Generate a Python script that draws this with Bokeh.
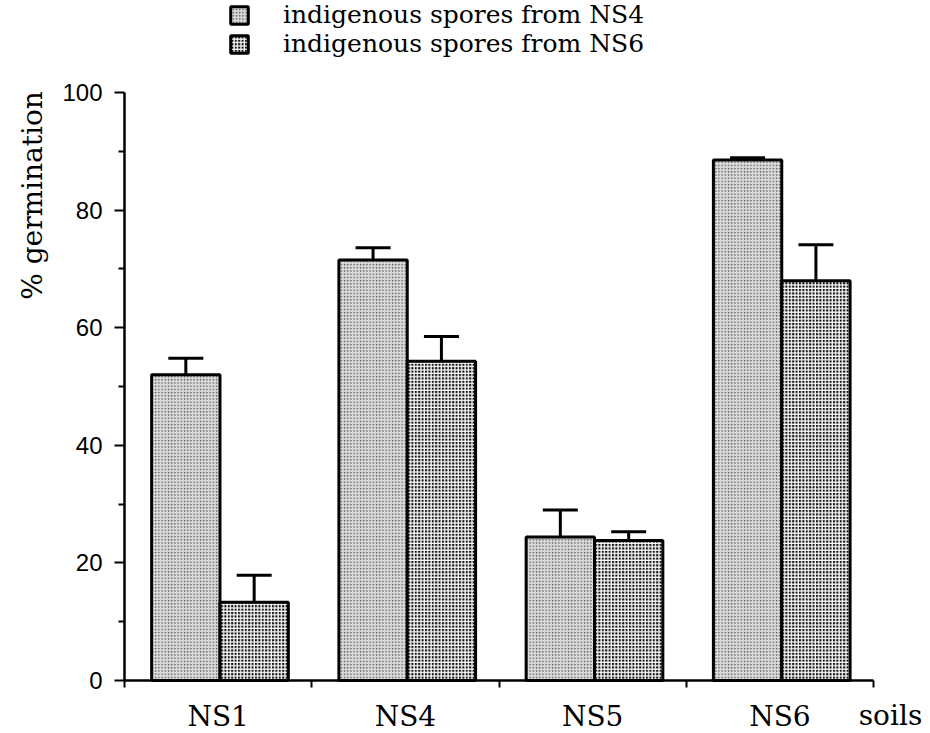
import math
from bokeh.plotting import figure
from bokeh.models import (ColumnDataSource, Range1d, FixedTicker, Whisker, TeeHead,
                          Legend, LegendItem, Label)
from bokeh.embed import file_html
from bokeh.resources import INLINE

# ---- data ----
soils = ["NS1", "NS4", "NS5", "NS6"]
ns4_mean = [52.0, 71.5, 24.4, 88.5]
ns4_err = [2.8, 2.1, 4.6, 0.4]
ns6_mean = [13.3, 54.3, 23.8, 68.0]
ns6_err = [4.6, 4.2, 1.5, 6.1]
y_ticks = [0, 20, 40, 60, 80, 100]
y_minor = [10, 30, 50, 70, 90]
series_labels = ["indigenous spores from NS4", "indigenous spores from NS6"]

# ---- layout (pixels) ----
W, H = 930, 733
X_LEFT_PX, X_RIGHT_PX = 124, 873      # x = 0 and x = n_groups
Y_ZERO_PX, Y_TOP_PX = 680, 92          # y = 0 and y = 100 (from top)
n = len(soils)
ppx = (X_RIGHT_PX - X_LEFT_PX) / n
ppy = (Y_ZERO_PX - Y_TOP_PX) / 100.0
x_range = Range1d(-X_LEFT_PX / ppx, n + (W - X_RIGHT_PX) / ppx)
y_range = Range1d(-(H - Y_ZERO_PX) / ppy, 100 + Y_TOP_PX / ppy)

bar_w = 0.365
idx = list(range(n))
x1 = [i + 0.51 - bar_w / 2 for i in idx]
x2 = [i + 0.51 + bar_w / 2 for i in idx]

s1 = ColumnDataSource(dict(x=x1, top=ns4_mean, up=[m + e for m, e in zip(ns4_mean, ns4_err)]))
s2 = ColumnDataSource(dict(x=x2, top=ns6_mean, up=[m + e for m, e in zip(ns6_mean, ns6_err)]))

p = figure(width=W, height=H, output_backend="svg", toolbar_location=None,
           x_range=x_range, y_range=y_range, title=None,
           min_border=0, min_border_left=0, min_border_right=0,
           min_border_top=0, min_border_bottom=0)
p.outline_line_color = None
p.grid.visible = False
p.background_fill_color = "white"
p.border_fill_color = "white"

r1 = p.vbar(x="x", top="top", width=bar_w, bottom=0, source=s1,
            fill_color="#dcdcdc", hatch_pattern="dot", hatch_color="#555555",
            hatch_scale=3.2, hatch_weight=1.0,
            line_color="black", line_width=3)
r2 = p.vbar(x="x", top="top", width=bar_w, bottom=0, source=s2,
            fill_color="#111111", hatch_pattern="cross", hatch_color="white",
            hatch_scale=3.4, hatch_weight=1.3,
            line_color="black", line_width=3)

for src in (s1, s2):
    w = Whisker(base="x", lower="top", upper="up", source=src, dimension="height",
                line_color="black", line_width=3,
                upper_head=TeeHead(size=35, line_width=3, line_color="black"),
                lower_head=None)
    p.add_layout(w)

# y axis, drawn at x = 0 inside the canvas
ya = p.yaxis[0]
ya.fixed_location = 0
ya.bounds = (0, 100)
ya.ticker = FixedTicker(ticks=y_ticks, minor_ticks=y_minor)
ya.axis_line_width = 2.5
ya.major_tick_line_width = 2
ya.minor_tick_line_width = 2
ya.major_tick_out = 10
ya.major_tick_in = 0
ya.minor_tick_out = 6
ya.minor_tick_in = 0
ya.major_label_text_font = "Liberation Sans"
ya.major_label_text_font_size = "24px"
ya.major_label_text_color = "black"
ya.major_label_standoff = 12

# x axis at y = 0: labels at group centres, ticks at group boundaries
xa = p.xaxis[0]
xa.fixed_location = 0
xa.bounds = (0, n)
xa.ticker = FixedTicker(ticks=[i + 0.5 for i in idx], minor_ticks=list(range(n + 1)))
xa.major_label_overrides = {i + 0.5: s for i, s in zip(idx, soils)}
xa.axis_line_width = 2.5
xa.major_tick_out = 0
xa.major_tick_in = 0
xa.minor_tick_out = 7
xa.minor_tick_in = 0
xa.minor_tick_line_width = 2
xa.major_label_text_font = "DejaVu Serif"
xa.major_label_text_font_size = "28px"
xa.major_label_text_color = "black"
xa.major_label_standoff = 12

# y label (near the top of the axis, as in the reference)
p.add_layout(Label(x=-(X_LEFT_PX - 32) / ppx, y=(Y_ZERO_PX - 195) / ppy, text="% germination",
                   angle=math.pi / 2, text_align="center", text_baseline="middle",
                   text_font="DejaVu Serif", text_font_size="28px", text_color="black"))
# x label at the right end of the axis
p.add_layout(Label(x=n + (890 - X_RIGHT_PX) / ppx, y=-(715 - Y_ZERO_PX) / ppy, text="soils",
                   text_align="center", text_baseline="middle",
                   text_font="DejaVu Serif", text_font_size="28px", text_color="black"))

legend = Legend(items=[LegendItem(label=series_labels[0], renderers=[r1]),
                       LegendItem(label=series_labels[1], renderers=[r2])],
                location=(228, H - 58), orientation="vertical",
                glyph_width=22, glyph_height=22, label_height=25, spacing=-4,
                padding=0, margin=0, label_standoff=33,
                label_text_font="DejaVu Serif", label_text_font_size="25px",
                label_text_color="black", label_text_baseline="middle",
                border_line_alpha=0, background_fill_alpha=0)
p.add_layout(legend)

open("out.html", "w").write(file_html(p, INLINE))
